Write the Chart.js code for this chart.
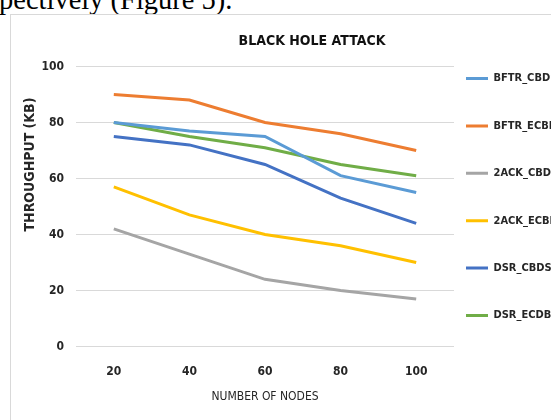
<!DOCTYPE html>
<html>
<head>
<meta charset="utf-8">
<script src="https://cdn.jsdelivr.net/npm/chart.js@4/dist/chart.umd.min.js"></script>
<style>
  html, body { margin: 0; padding: 0; background: #fff; overflow: hidden; width: 551px; height: 420px; }
  #caption { position: absolute; left: -1px; top: -14px; font: 28.5px 'Liberation Serif', 'Times New Roman', serif; line-height: 28px; color: #000; white-space: nowrap; }
  #frame { position: absolute; left: 10px; top: 14px; width: 700px; height: 600px; border: 1px solid #d9d9d9; background: #fff; }
  #canvas { position: absolute; left: 0; top: -10px; }
</style>
</head>
<body>
<div id="caption">pectively (Figure 5).</div>
<div id="frame"></div>
<canvas id="canvas" width="596" height="414"></canvas>
<script>
var nodes = ['20', '40', '60', '80', '100'];
var bftrCbds = [80, 77, 75, 61, 55];
var bftrEcbds = [90, 88, 80, 76, 70];
var ackCbds = [42, 33, 24, 20, 17];
var ackEcbds = [57, 47, 40, 36, 30];
var dsrCbds = [75, 72, 65, 53, 44];
var dsrEcdbs = [80, 75, 71, 65, 61];
var yTicks = [0, 20, 40, 60, 80, 100];

var FONT = "'DejaVu Sans Condensed', 'Liberation Sans', sans-serif";
var INK = '#262626';

function series(label, data, color) {
    return {
        label: label,
        data: data,
        borderColor: color,
        backgroundColor: color,
        borderWidth: 3,
        pointRadius: 0,
        tension: 0,
        fill: false
    };
}

// legend lines sit just right of the plot, closer than the label padding would put them
var legendNudge = {
    id: 'legendNudge',
    afterLayout: function (chart) {
        var lg = chart.legend;
        var shift = lg.options.labels.padding - 12;
        var x = chart.chartArea.right - shift;
        lg.right = x + (lg.right - lg.left);
        lg.left = x;
    }
};

// rotated value-axis caption, set higher than the axis midpoint
var valueCaption = {
    id: 'valueCaption',
    afterDraw: function (chart, args, opts) {
        var ctx = chart.ctx;
        var area = chart.chartArea;
        ctx.save();
        ctx.translate(area.left - 46, area.top + opts.fromTop);
        ctx.rotate(-Math.PI / 2);
        ctx.font = 'bold ' + opts.size + 'px ' + FONT;
        ctx.fillStyle = INK;
        ctx.textAlign = 'center';
        ctx.textBaseline = 'middle';
        ctx.fillText(opts.text, 0, 0);
        ctx.restore();
    }
};

var config = {
    type: 'line',
    data: {
        labels: nodes,
        datasets: [
            series('BFTR_CBDS', bftrCbds, '#5b9bd5'),
            series('BFTR_ECBDS', bftrEcbds, '#ed7d31'),
            series('2ACK_CBDS', ackCbds, '#a5a5a5'),
            series('2ACK_ECBDS', ackEcbds, '#ffc000'),
            series('DSR_CBDS', dsrCbds, '#4472c4'),
            series('DSR_ECDBS', dsrEcdbs, '#70ad47')
        ]
    },
    options: {
        responsive: false,
        animation: false,
        layout: { padding: { left: 28, right: 0, top: 0, bottom: 0 } },
        plugins: {
            title: {
                display: true,
                text: 'BLACK HOLE ATTACK',
                color: '#111',
                font: { family: FONT, size: 14, weight: 'bold' },
                padding: { top: 43.4, bottom: 16.3 }
            },
            legend: {
                position: 'right',
                labels: {
                    color: INK,
                    font: { family: FONT, size: 11, weight: 'bold' },
                    boxWidth: 22,
                    boxHeight: 0,
                    padding: 36.4
                }
            },
            tooltip: { enabled: false },
            valueCaption: { text: 'THROUGHPUT (KB)', size: 14, fromTop: 98 }
        },
        scales: {
            x: {
                offset: true,
                grid: { display: false, drawTicks: false },
                border: { display: false },
                ticks: { color: INK, padding: 18.1, font: { family: FONT, size: 12, weight: 'bold' } },
                title: {
                    display: true,
                    text: 'NUMBER OF NODES',
                    color: INK,
                    font: { family: FONT, size: 12 },
                    padding: { top: -7.5, bottom: 0 }
                }
            },
            y: {
                min: yTicks[0],
                max: yTicks[yTicks.length - 1],
                afterFit: function (scale) { scale.width = 48; },
                afterBuildTicks: function (scale) {
                    scale.ticks = yTicks.map(function (v) { return { value: v }; });
                },
                grid: { color: '#d9d9d9', lineWidth: 1, drawTicks: false },
                border: { display: false },
                ticks: { color: INK, padding: 12, font: { family: FONT, size: 12, weight: 'bold' } }
            }
        }
    },
    plugins: [legendNudge, valueCaption]
};

new Chart(document.getElementById('canvas').getContext('2d'), config);
</script>
</body>
</html>
